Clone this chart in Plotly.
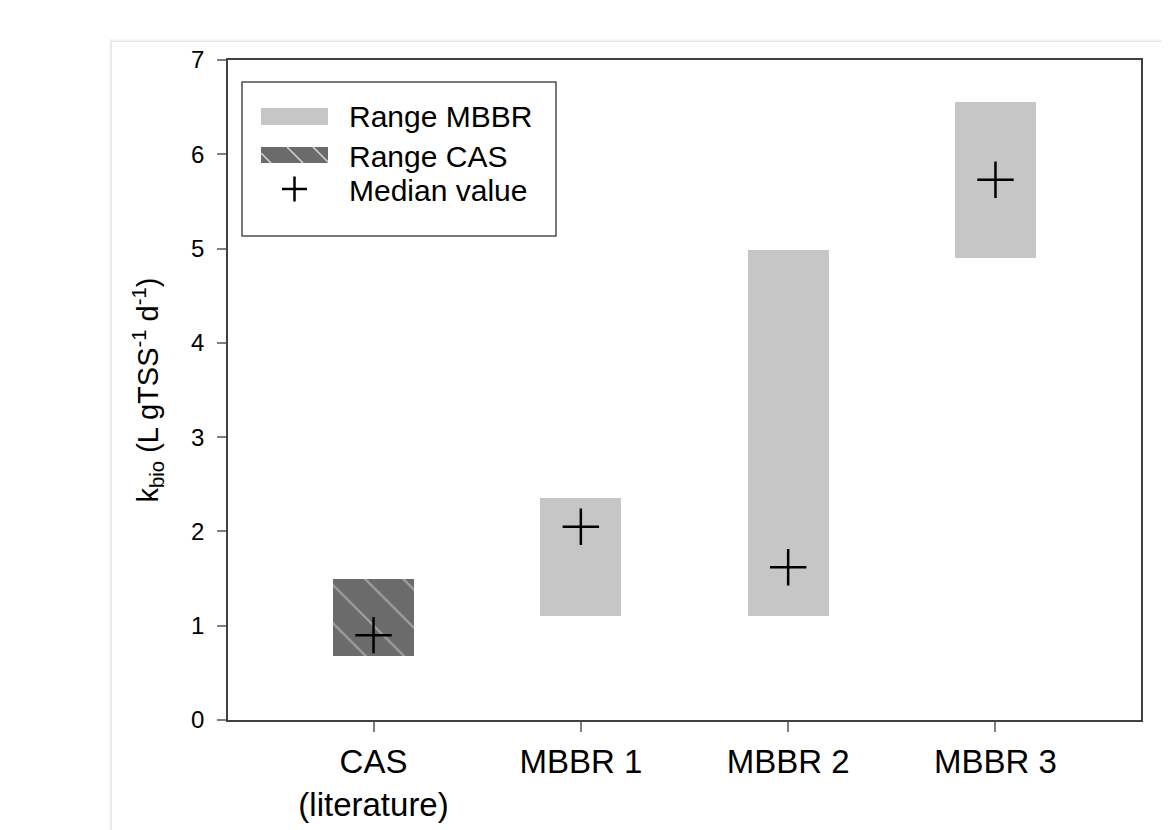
import plotly.graph_objects as go

# ---- data ----
categories = ["CAS<br>(literature)", "MBBR 1", "MBBR 2", "MBBR 3"]
range_low = [0.68, 1.10, 1.10, 4.90]
range_high = [1.50, 2.35, 4.98, 6.55]
median_vals = [0.90, 2.05, 1.62, 5.73]
y_ticks = [0, 1, 2, 3, 4, 5, 6, 7]

FONT = "Liberation Sans, Arial, sans-serif"
OFF = 8  # browser body margin
W, H = 1169 - OFF, 830 - OFF
L, R, T, B = 228 - OFF, 1141 - OFF, 60 - OFF, 720 - OFF


def px(x):
    return (x - OFF - L) / (R - L)


def py(y):
    return (B - (y - OFF)) / (B - T)


xpos = list(range(len(categories)))
heights = [h - l for h, l in zip(range_high, range_low)]

fig = go.Figure()

# CAS range (hatched)
fig.add_trace(go.Bar(
    x=xpos[:1], y=heights[:1], base=range_low[:1], width=0.39,
    name="Range CAS", showlegend=False,
    marker=dict(color="#6b6b6b", line=dict(width=0),
                pattern=dict(shape="\\", fgcolor="#d8d8d8", bgcolor="#6b6b6b",
                             size=27, solidity=0.08, fillmode="overlay")),
    hoverinfo="skip",
))
# MBBR ranges
fig.add_trace(go.Bar(
    x=xpos[1:], y=heights[1:], base=range_low[1:], width=0.39,
    name="Range MBBR", showlegend=False,
    marker=dict(color="#c6c6c6", line=dict(width=0)),
    hoverinfo="skip",
))
# medians
fig.add_trace(go.Scatter(
    x=xpos, y=median_vals, mode="markers", name="Median value", showlegend=False,
    marker=dict(symbol="cross-thin", size=26, line=dict(color="black", width=2.5)),
))

shapes = []
# page frame (light)
for c, w in [("#f6f6f6", 6), ("#eeeeee", 3), ("#dcdcdc", 1)]:
    shapes.append(dict(type="rect", xref="paper", yref="paper", layer="below",
                       x0=px(112), x1=px(1200), y0=py(900), y1=py(42),
                       line=dict(color=c, width=w), fillcolor="rgba(0,0,0,0)"))
shapes.append(dict(type="rect", xref="paper", yref="paper", layer="below",
                   x0=px(112), x1=px(1200), y0=py(900), y1=py(42),
                   line=dict(width=0), fillcolor="white"))

# legend box
shapes.append(dict(type="rect", xref="paper", yref="paper",
                   x0=px(242), x1=px(556), y0=py(236), y1=py(82),
                   line=dict(color="#4d4d4d", width=1.5), fillcolor="white"))
# MBBR swatch
shapes.append(dict(type="rect", xref="paper", yref="paper",
                   x0=px(261), x1=px(328), y0=py(125), y1=py(108),
                   line=dict(width=0), fillcolor="#c6c6c6"))
# CAS swatch
shapes.append(dict(type="rect", xref="paper", yref="paper",
                   x0=px(261), x1=px(328), y0=py(163), y1=py(147),
                   line=dict(width=0), fillcolor="#6b6b6b"))
for (xa, ya, xb, yb) in [(261, 153, 271, 163), (287, 147, 303, 163), (313, 147, 328, 162)]:
    shapes.append(dict(type="line", xref="paper", yref="paper",
                       x0=px(xa), y0=py(ya), x1=px(xb), y1=py(yb),
                       line=dict(color="#d8d8d8", width=1.5)))
# median "+" symbol in legend
shapes.append(dict(type="line", xref="paper", yref="paper",
                   x0=px(282), x1=px(307), y0=py(189), y1=py(189),
                   line=dict(color="black", width=2.5)))
shapes.append(dict(type="line", xref="paper", yref="paper",
                   x0=px(294.5), x1=px(294.5), y0=py(176.5), y1=py(201.5),
                   line=dict(color="black", width=2.5)))

annotations = []
for txt, yy in [("Range MBBR", 117), ("Range CAS", 156), ("Median value", 190)]:
    annotations.append(dict(text=txt, xref="paper", yref="paper", x=px(347), y=py(yy),
                            xanchor="left", yanchor="middle", showarrow=False,
                            font=dict(family=FONT, size=30, color="black")))

fig.update_layout(
    width=W, height=H,
    margin=dict(l=L, r=W - R, t=T, b=H - B, autoexpand=False),
    paper_bgcolor="white", plot_bgcolor="white",
    shapes=shapes, annotations=annotations,
    showlegend=False, bargap=0,
    font=dict(family=FONT, color="black"),
)

fig.update_xaxes(
    range=[-0.702, 3.702], tickmode="array", tickvals=xpos, ticktext=categories,
    tickfont=dict(family=FONT, size=33, color="black"),
    showline=True, linecolor="#404040", linewidth=1.5, mirror=True,
    ticks="outside", ticklen=10, tickcolor="#808080", tickwidth=1.5,
    ticklabelstandoff=2, automargin=False,
    showgrid=False, zeroline=False,
)
fig.update_yaxes(
    range=[0, 7], tickmode="array", tickvals=y_ticks,
    tickfont=dict(family=FONT, size=24, color="black"),
    showline=True, linecolor="#404040", linewidth=1.5, mirror=True,
    ticks="outside", ticklen=9, tickcolor="#808080", tickwidth=1.5,
    ticklabelstandoff=8, automargin=False,
    showgrid=False, zeroline=False,
    title=dict(text="k<sub>bio</sub> (L gTSS<sup>-1</sup> d<sup>-1</sup>)",
               font=dict(family=FONT, size=29, color="black"), standoff=24),
)

fig.write_html("out.html")
